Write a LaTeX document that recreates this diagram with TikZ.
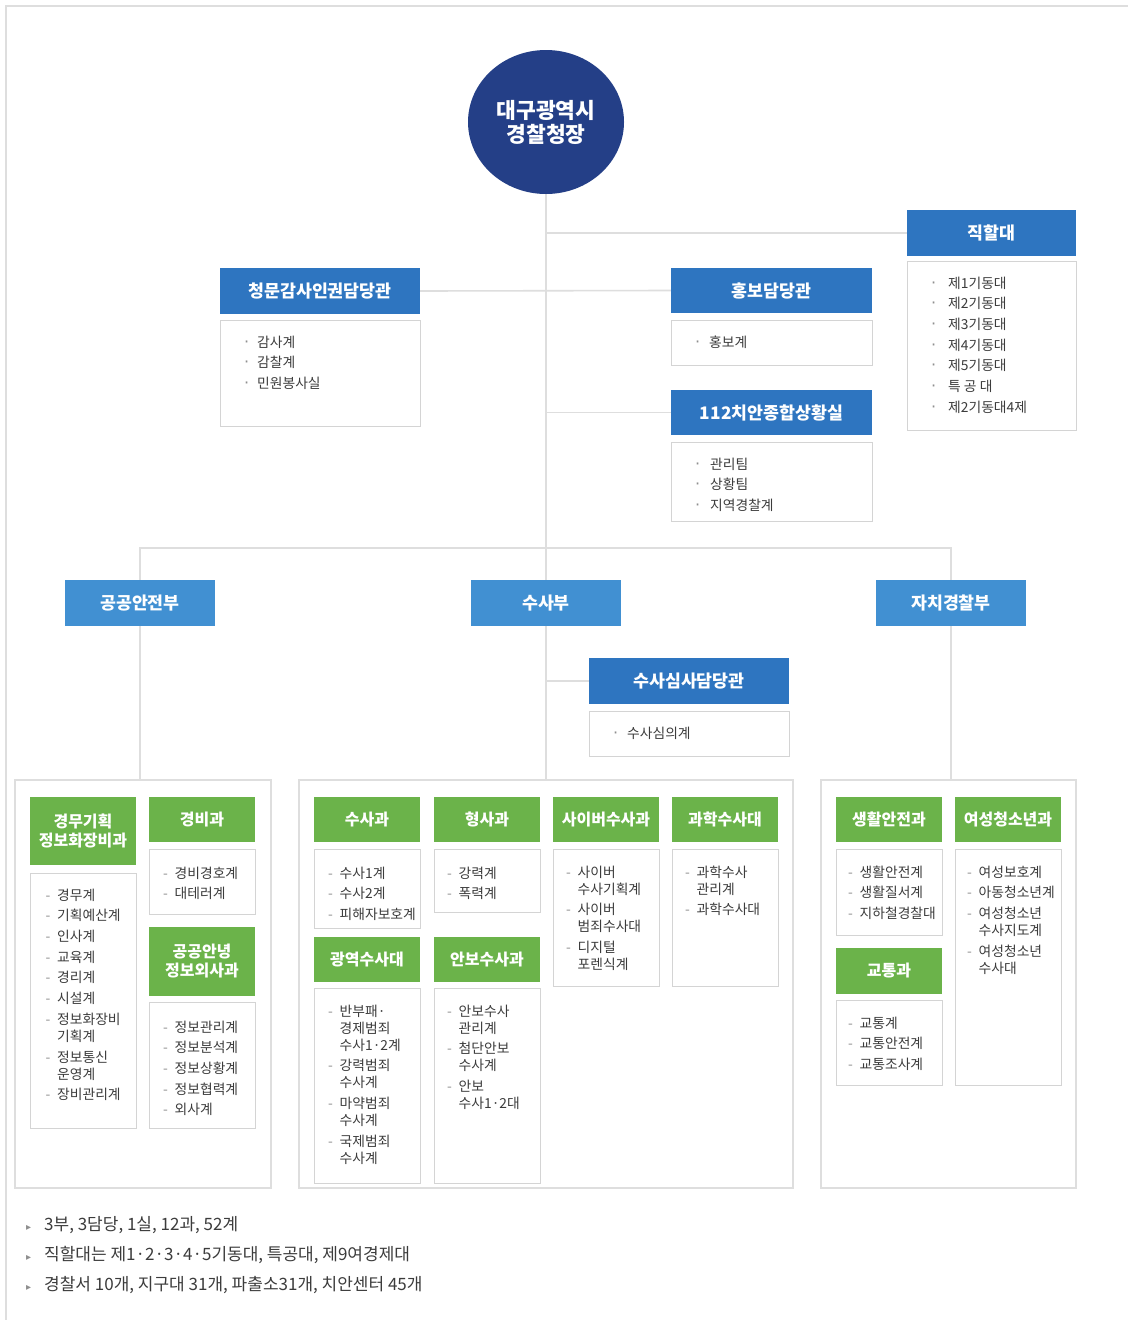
\documentclass[tikz,border=0pt]{standalone}
\usepackage{fontspec}
\setmainfont{Noto Sans CJK KR}
\newfontfamily\dv{DejaVu Sans}
\usetikzlibrary{backgrounds,shapes.geometric}
\definecolor{navy}{HTML}{243F87}
\definecolor{hblue}{HTML}{2E75C0}
\definecolor{dblue}{HTML}{4190D2}
\definecolor{grn}{HTML}{6BB34A}
\definecolor{lgray}{HTML}{DEDEDE}
\definecolor{bgray}{HTML}{D4D4D4}
\definecolor{txt}{HTML}{3C3C3C}
\definecolor{dashc}{HTML}{8F8F8F}
\newcommand\mydash{\makebox[11.5pt][l]{\color{dashc}-}}
\newcommand\mygap{\hspace*{11.5pt}}
\newcommand\mydot[1][13pt]{\makebox[#1][l]{\color{dashc}\dv\fontsize{16}{16}\selectfont ·}}
\newcommand\isep{\\[3.7pt]}
\tikzset{
  hdr/.style={rectangle, fill=hblue, text=white, inner sep=0, minimum height=46pt,
    font=\fontsize{17.3}{19}\selectfont\bfseries},
  dept/.style={hdr, fill=dblue, minimum width=150pt},
  ghdr/.style={rectangle, fill=grn, text=white, inner sep=0, minimum width=106pt,
    minimum height=45pt, align=center, font=\fontsize{16}{19}\selectfont\bfseries},
  cbox/.style={rectangle, draw=bgray, line width=1pt, fill=white, inner sep=0},
  sbox/.style={cbox, minimum width=106pt},
  grp/.style={rectangle, draw=lgray, line width=1.6pt, fill=white, inner sep=0,
    minimum height=408pt},
  lst/.style={anchor=north west, inner sep=0, align=left, text=txt,
    font=\fontsize{13.8}{17}\selectfont},
  ulst/.style={lst, font=\fontsize{13.8}{20.7}\selectfont},
  foot/.style={anchor=west, inner sep=0, text=txt, font=\fontsize{17}{18}\selectfont},
  conn/.style={draw=lgray, line width=1.6pt},
}
\begin{document}
\begin{tikzpicture}[x=1pt,y=-1pt]
\useasboundingbox (0,0) rectangle (1128,1320);

% chief
\node[ellipse, fill=navy, inner sep=0, minimum width=156pt, minimum height=144pt,
  text=white, align=center, font=\fontsize{21.5}{24}\selectfont\bfseries] (chief) at (546,122) {대구광역시\\경찰청장};

% upper offices
\node[hdr, minimum width=169pt] (jikhal) at (991.5,233) {직할대};
\node[cbox, minimum width=169pt, minimum height=169pt] (jikhalB) at (991.5,345.5) {};
\node[ulst] (jikhalL) at (931,276.5) {\mydot[17pt]제1기동대\\\mydot[17pt]제2기동대\\\mydot[17pt]제3기동대\\\mydot[17pt]제4기동대\\\mydot[17pt]제5기동대\\\mydot[17pt]특 공 대\\\mydot[17pt]제2기동대4제};

\node[hdr, minimum width=200pt] (cheongmun) at (320,291) {청문감사인권담당관};
\node[cbox, minimum width=200pt, minimum height=106pt] (cheongmunB) at (320,373) {};
\node[ulst] (cheongmunL) at (244,335.5) {\mydot 감사계\\\mydot 감찰계\\\mydot 민원봉사실};

\node[hdr, minimum width=201pt, minimum height=45pt] (hongbo) at (771.5,290.5) {홍보담당관};
\node[cbox, minimum width=201pt, minimum height=45pt] (hongboB) at (771.5,342.5) {};
\node[ulst] (hongboL) at (695,335.5) {\mydot[14pt]홍보계};

\node[hdr, minimum width=201pt, minimum height=45pt] (sit112) at (771.5,412.5) {112치안종합상황실};
\node[cbox, minimum width=201pt, minimum height=79pt] (sit112B) at (771.5,481.5) {};
\node[ulst] (sit112L) at (695,457.5) {\mydot[15pt]관리팀\\\mydot[15pt]상황팀\\\mydot[15pt]지역경찰계};

% departments
\node[dept] (gongan) at (140,603) {공공안전부};
\node[dept] (susabu) at (546,603) {수사부};
\node[dept] (jachi) at (951,603) {자치경찰부};

\node[hdr, minimum width=200pt] (simsa) at (689,681) {수사심사담당관};
\node[cbox, minimum width=200pt, minimum height=45pt] (simsaB) at (689,733.5) {};
\node[ulst] (simsaL) at (613,726.5) {\mydot[14pt]수사심의계};

% group frames
\node[grp, minimum width=256pt] (leftG) at (143,984) {};
\node[grp, minimum width=494pt] (midG) at (546,984) {};
\node[grp, minimum width=255pt] (rightG) at (948.5,984) {};

% left group
\node[ghdr, minimum height=68pt] (gm) at (83,831) {경무기획\\정보화장비과};
\node[sbox, minimum height=255pt] (gmB) at (83,1000.5) {};
\node[lst] (gmL) at (45.5,888.5) {\mydash 경무계\isep\mydash 기획예산계\isep\mydash 인사계\isep\mydash 교육계\isep\mydash 경리계\isep\mydash 시설계\isep\mydash 정보화장비\\\mygap 기획계\isep\mydash 정보통신\\\mygap 운영계\isep\mydash 장비관리계};

\node[ghdr] (gb) at (202,819.5) {경비과};
\node[sbox, minimum height=65pt] (gbB) at (202,881.5) {};
\node[lst] (gbL) at (163,866.5) {\mydash 경비경호계\isep\mydash 대테러계};

\node[ghdr, minimum height=69pt] (ga) at (202,961.5) {공공안녕\\정보외사과};
\node[sbox, minimum height=126pt] (gaB) at (202,1065) {};
\node[lst] (gaL) at (163,1020.5) {\mydash 정보관리계\isep\mydash 정보분석계\isep\mydash 정보상황계\isep\mydash 정보협력계\isep\mydash 외사계};

% middle group
\node[ghdr] (ss) at (367,819.5) {수사과};
\node[sbox, minimum height=79pt] (ssB) at (367,888.5) {};
\node[lst] (ssL) at (328,866.5) {\mydash 수사1계\isep\mydash 수사2계\isep\mydash 피해자보호계};

\node[ghdr] (hs) at (487,819.5) {형사과};
\node[sbox, minimum height=63pt] (hsB) at (487,880.5) {};
\node[lst] (hsL) at (447,866.5) {\mydash 강력계\isep\mydash 폭력계};

\node[ghdr] (cy) at (606,819.5) {사이버수사과};
\node[sbox, minimum height=137pt] (cyB) at (606,917.5) {};
\node[lst] (cyL) at (566,865.5) {\mydash 사이버\\\mygap 수사기획계\isep\mydash 사이버\\\mygap 범죄수사대\isep\mydash 디지털\\\mygap 포렌식계};

\node[ghdr] (sc) at (725,819.5) {과학수사대};
\node[sbox, minimum height=137pt] (scB) at (725,917.5) {};
\node[lst] (scL) at (685,865.5) {\mydash 과학수사\\\mygap 관리계\isep\mydash 과학수사대};

\node[ghdr] (gy) at (367,959.5) {광역수사대};
\node[sbox, minimum height=195pt] (gyB) at (367,1085.5) {};
\node[lst] (gyL) at (328,1004.5) {\mydash 반부패·\\\mygap 경제범죄\\\mygap 수사1·2계\isep\mydash 강력범죄\\\mygap 수사계\isep\mydash 마약범죄\\\mygap 수사계\isep\mydash 국제범죄\\\mygap 수사계};

\node[ghdr] (ab) at (487,959.5) {안보수사과};
\node[sbox, minimum height=195pt] (abB) at (487,1085.5) {};
\node[lst] (abL) at (447,1004.5) {\mydash 안보수사\\\mygap 관리계\isep\mydash 첨단안보\\\mygap 수사계\isep\mydash 안보\\\mygap 수사1·2대};

% right group
\node[ghdr] (ls) at (889,819.5) {생활안전과};
\node[sbox, minimum height=86pt] (lsB) at (889,892) {};
\node[lst] (lsL) at (848,865.5) {\mydash 생활안전계\isep\mydash 생활질서계\isep\mydash 지하철경찰대};

\node[ghdr] (ys) at (1008,819.5) {여성청소년과};
\node[sbox, minimum height=236pt] (ysB) at (1008,967) {};
\node[lst] (ysL) at (967,865.5) {\mydash 여성보호계\isep\mydash 아동청소년계\isep\mydash 여성청소년\\\mygap 수사지도계\isep\mydash 여성청소년\\\mygap 수사대};

\node[ghdr, minimum height=46pt] (gt) at (889,971) {교통과};
\node[sbox, minimum height=85pt] (gtB) at (889,1042.5) {};
\node[lst] (gtL) at (848,1016.5) {\mydash 교통계\isep\mydash 교통안전계\isep\mydash 교통조사계};

% footer
\node[foot] (f1) at (26,1225) {\makebox[18pt][l]{\color{dashc}\dv\fontsize{10}{10}\selectfont ▸}3부, 3담당, 1실, 12과, 52계};
\node[foot] (f2) at (26,1255) {\makebox[18pt][l]{\color{dashc}\dv\fontsize{10}{10}\selectfont ▸}직할대는 제1·2·3·4·5기동대, 특공대, 제9여경제대};
\node[foot] (f3) at (26,1285) {\makebox[18pt][l]{\color{dashc}\dv\fontsize{10}{10}\selectfont ▸}경찰서 10개, 지구대 31개, 파출소31개, 치안센터 45개};

\begin{pgfonlayer}{background}
\fill[white] (0,0) rectangle (1128,1320);
\draw[conn] (6,1320) -- (6,6) -- (1128,6);
\coordinate (bus) at (546,548);
\draw[conn] (chief.south) -- (midG.north);
\draw[conn] (chief.south |- jikhal.west) -- (jikhal.west);
\draw[conn] (cheongmun.east) -- (hongbo.west);
\draw[conn] (chief.south |- sit112.west) -- (sit112.west);
\draw[conn] (gongan.north) -- (gongan.north |- bus) -- (jachi.north |- bus) -- (jachi.north);
\draw[conn] (gongan.south) -- (gongan.south |- leftG.north);
\draw[conn] (jachi.south) -- (jachi.south |- rightG.north);
\draw[conn] (chief.south |- simsa.west) -- (simsa.west);
\end{pgfonlayer}
\end{tikzpicture}
\end{document}
